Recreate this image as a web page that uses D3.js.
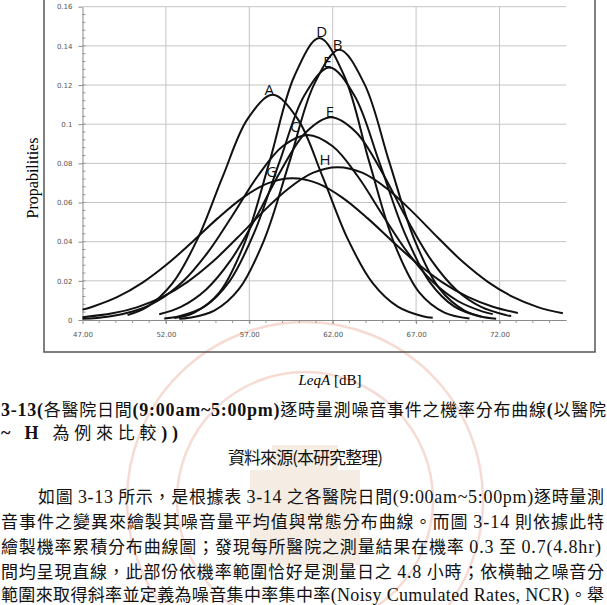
<!DOCTYPE html>
<html>
<head>
<meta charset="utf-8">
<style>
  body { margin: 0; background: #fff; }
  svg { display: block; }
  .grid line { stroke: #c4c4c4; stroke-width: 1px; }
  .axis text { font-family: "DejaVu Sans"; font-size: 7px; fill: #555; }
  .axis path, .axis line { stroke: #8a8a8a; }
  .curve { fill: none; stroke: #111; stroke-width: 2px; }
  .lbl { font-family: "Open Sans"; font-size: 15px; fill: #111; }
  .cap { font-family: "Noto Sans CJK TC"; font-size: 17px; fill: #111; }
  .lat { font-family: "Liberation Serif"; }
</style>
<script src="https://cdnjs.cloudflare.com/ajax/libs/d3/7.8.5/d3.min.js"></script>
</head>
<body>
<script>
var width = 607;
var height = 605;

// curves: [LeqA, probability]
var curveA = [[49.7,0.0025],[50.9,0.0068],[52.4,0.0188],[53.9,0.0414],[55.4,0.0731],[56.9,0.1027],[58.4,0.115],[59.9,0.1027],[61.4,0.0731],[62.9,0.0414],[64.4,0.0188],[65.9,0.0068],[67.4,0.0019],[68.0,0.0011]];
var curveB = [[52.8,0.0006],[53.4,0.0011],[54.9,0.0048],[56.4,0.016],[57.9,0.0411],[59.4,0.0805],[60.9,0.1206],[62.4,0.138],[63.9,0.1206],[65.4,0.0805],[66.9,0.0411],[68.4,0.016],[69.9,0.0048],[70.9,0.0018]];
var curveC = [[47,0.0006],[48.5,0.0017],[50,0.0043],[51.5,0.0097],[53,0.0195],[54.5,0.0344],[56,0.0535],[57.5,0.0734],[59,0.0887],[60.5,0.0945],[62,0.0887],[63.5,0.0734],[65,0.0535],[66.5,0.0344],[68,0.0195],[69.5,0.0097],[71,0.0043],[71.6,0.003]];
var curveD = [[52.5,0.001],[53.7,0.0038],[55.2,0.014],[56.7,0.0389],[58.2,0.0805],[59.7,0.1245],[61.2,0.144],[62.7,0.1245],[64.2,0.0805],[65.7,0.0389],[67.2,0.014],[68.7,0.0038],[70.2,0.0008]];
var curveE = [[51.6,0.0029],[52.9,0.0067],[54.4,0.0155],[55.9,0.0307],[57.4,0.0523],[58.9,0.0764],[60.4,0.0959],[61.9,0.1035],[63.4,0.0959],[64.9,0.0764],[66.4,0.0523],[67.9,0.0307],[69.4,0.0155],[70.9,0.0067],[72.4,0.0025],[72.7,0.002]];
var curveF = [[51.9,0.0008],[52.8,0.0019],[54.3,0.0068],[55.8,0.0196],[57.3,0.0447],[58.8,0.0805],[60.3,0.1147],[61.8,0.129],[63.3,0.1147],[64.8,0.0805],[66.3,0.0447],[67.8,0.0196],[69.3,0.0068],[70.8,0.0019],[71.8,0.0007]];
var curveG = [[47,0.0053],[47.6,0.0068],[49.1,0.0118],[50.6,0.0191],[52.1,0.0287],[53.6,0.04],[55.1,0.0519],[56.6,0.0624],[58.1,0.0698],[59.6,0.0724],[61.1,0.0698],[62.6,0.0624],[64.1,0.0519],[65.6,0.04],[67.1,0.0287],[68.6,0.0191],[70.1,0.0118],[71.6,0.0068],[73.1,0.0036]];
var curveH = [[47,0.0014],[48.8,0.0034],[50.3,0.0066],[51.8,0.0118],[53.3,0.0195],[54.8,0.0297],[56.3,0.0421],[57.8,0.0551],[59.3,0.0668],[60.8,0.0751],[62.3,0.078],[63.8,0.0751],[65.3,0.0668],[66.8,0.0551],[68.3,0.0421],[69.8,0.0297],[71.3,0.0195],[72.8,0.0118],[74.3,0.0066],[75.8,0.0034]];

var curves = [curveA, curveB, curveC, curveD, curveE, curveF, curveG, curveH];

// letters written next to the peaks (the top one reads "E" in the picture)
var labelText = ["D", "B", "E", "A", "E", "C", "H", "G"];
var labelX = [61.34, 62.3, 61.68, 58.2, 61.84, 59.74, 61.54, 58.34];
var labelY = [0.1471, 0.1404, 0.1319, 0.1178, 0.1064, 0.0987, 0.0817, 0.0757];

var xTicks = [47, 52, 57, 62, 67, 72];
var yTicks = [0, 0.02, 0.04, 0.06, 0.08, 0.1, 0.12, 0.14, 0.16];
var yTickText = ["0", "0.02", "0.04", "0.06", "0.08", "0.1", "0.12", "0.14", "0.16"];

var caption = [
    [["b", "3-13("], ["c", "各醫院日間"], ["b", "(9:00am~5:00pm)"], ["c", "逐時量測噪音事件之機率分布曲線"], ["b", "("], ["c", "以醫院"]],
    [["b", "~ H "], ["c", "為例來比較"], ["b", "))"]],
    [["c", "資料來源(本研究整理)"]],
    [["c", "如圖 "], ["l", "3-13"], ["c", " 所示，是根據表 "], ["l", "3-14"], ["c", " 之各醫院日間"], ["l", "(9:00am~5:00pm)"], ["c", "逐時量測"]],
    [["c", "音事件之變異來繪製其噪音量平均值與常態分布曲線。而圖 "], ["l", "3-14"], ["c", " 則依據此特"]],
    [["c", "繪製機率累積分布曲線圖；發現每所醫院之測量結果在機率 "], ["l", "0.3"], ["c", " 至 "], ["l", "0.7(4.8hr)"]],
    [["c", "間均呈現直線，此部份依機率範圍恰好是測量日之 "], ["l", "4.8"], ["c", " 小時；依橫軸之噪音分"]],
    [["c", "範圍來取得斜率並定義為噪音集中率集中率"], ["l", "(Noisy Cumulated Rates, NCR)"], ["c", "。舉"]]
];
var captionX = [1, 1, 228, 38, 1, 1, 1, 1];
var captionY = [416, 439, 464, 503, 528, 553, 578, 601];
var captionW = [605, 177, 155, 566, 603, 600, 603, 603];

var svg = d3.select("body")
    .append("svg")
    .attr("width", width)
    .attr("height", height);

addWatermark(svg);

// chart frame
svg.append("rect")
    .attr("x", 44).attr("y", -10)
    .attr("width", 551).attr("height", 362)
    .attr("fill", "none")
    .attr("stroke", "#555")
    .attr("stroke-width", 1.5);

var x = d3.scaleLinear().domain([47, 76]).range([82.5, 566.2]);
var y = d3.scaleLinear().domain([0, 0.16]).range([320, 6.7]);

// gridlines
var grid = svg.append("g").attr("class", "grid");
grid.selectAll(".h")
    .data(yTicks.slice(1))
    .enter().append("line")
    .attr("x1", x(47)).attr("x2", x(76))
    .attr("y1", d => y(d)).attr("y2", d => y(d));
grid.selectAll(".v")
    .data(xTicks.slice(1))
    .enter().append("line")
    .attr("x1", d => x(d)).attr("x2", d => x(d))
    .attr("y1", y(0)).attr("y2", y(0.16));

// minor ticks
var minor = svg.append("g").attr("stroke", "#9a9a9a");
minor.selectAll(".mx")
    .data(d3.range(48, 76))
    .enter().append("line")
    .attr("x1", d => x(d)).attr("x2", d => x(d))
    .attr("y1", y(0)).attr("y2", y(0) + 3);
minor.selectAll(".my")
    .data(d3.range(0.004, 0.16, 0.004))
    .enter().append("line")
    .attr("x1", x(47)).attr("x2", x(47) + 3)
    .attr("y1", d => y(d)).attr("y2", d => y(d));

var xAxis = d3.axisBottom(x)
    .tickValues(xTicks)
    .tickFormat(d3.format(".2f"))
    .tickSize(4)
    .tickSizeOuter(0)
    .tickPadding(8);
svg.append("g")
    .attr("class", "axis")
    .attr("transform", "translate(0," + y(0) + ")")
    .call(xAxis);

var yAxis = d3.axisLeft(y)
    .tickValues(yTicks)
    .tickFormat((d, i) => yTickText[i])
    .tickSize(4)
    .tickSizeOuter(0)
    .tickPadding(6);
svg.append("g")
    .attr("class", "axis")
    .attr("transform", "translate(" + x(47) + ",0)")
    .call(yAxis);

var line = d3.line()
    .x(d => x(d[0]))
    .y(d => y(d[1]))
    .curve(d3.curveCatmullRom.alpha(0.5));

svg.append("g")
    .selectAll("path")
    .data(curves)
    .enter()
    .append("path")
    .attr("class", "curve")
    .attr("d", line);

svg.append("g")
    .selectAll("text")
    .data(labelText)
    .enter()
    .append("text")
    .attr("class", "lbl")
    .attr("x", (d, i) => x(labelX[i]))
    .attr("y", (d, i) => y(labelY[i]))
    .attr("dy", "0.36em")
    .attr("text-anchor", "middle")
    .text(d => d);

// axis titles
svg.append("text")
    .attr("transform", "translate(38,178) rotate(-90)")
    .attr("text-anchor", "middle")
    .style("font-family", "Liberation Serif")
    .style("font-size", "16px")
    .text("Propabilities");

var xt = svg.append("text")
    .attr("x", 330).attr("y", 385)
    .attr("text-anchor", "middle")
    .style("font-family", "Liberation Serif")
    .style("font-size", "15px");
xt.append("tspan").style("font-style", "italic").text("LeqA");
xt.append("tspan").text(" [dB]");

// caption and body text under the chart
caption.forEach(function (parts, i) {
    var t = svg.append("text")
        .attr("class", "cap")
        .attr("x", captionX[i])
        .attr("y", captionY[i])
        .attr("textLength", captionW[i])
        .attr("lengthAdjust", "spacing");
    parts.forEach(function (p) {
        var s = t.append("tspan").text(p[1]);
        if (p[0] == "b") s.attr("class", "lat").style("font-weight", "bold").style("font-size", "18px");
        if (p[0] == "l") s.attr("class", "lat").style("font-size", "18px");
    });
});

function addWatermark(svg) {
    var wm = svg.append("g").attr("opacity", 0.4);
    wm.append("circle")
        .attr("cx", 305).attr("cy", 500).attr("r", 178)
        .attr("fill", "none").attr("stroke", "#e9a894").attr("stroke-width", 2.5);
    wm.append("circle")
        .attr("cx", 305).attr("cy", 500).attr("r", 128)
        .attr("fill", "none").attr("stroke", "#e9a894").attr("stroke-width", 2.5);
    wm.append("rect")
        .attr("x", 250).attr("y", 470).attr("width", 110).attr("height", 95)
        .attr("fill", "#e8d2bc");
    wm.append("rect")
        .attr("x", 272).attr("y", 445).attr("width", 66).attr("height", 30)
        .attr("fill", "#e8d2bc");
}
</script>
</body>
</html>
